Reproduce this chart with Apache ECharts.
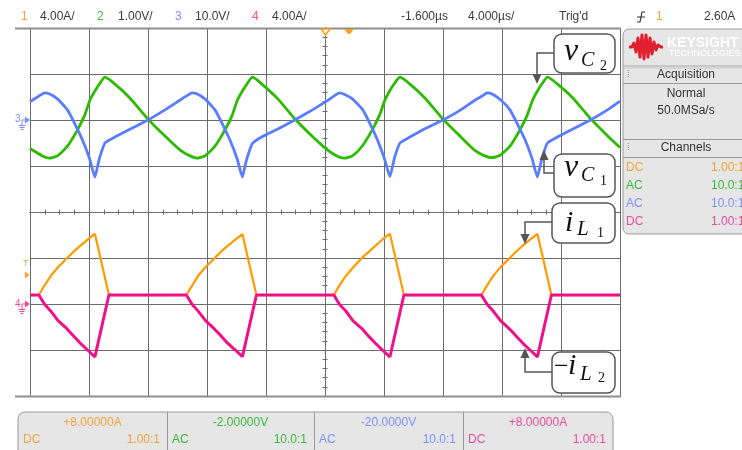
<!DOCTYPE html>
<html>
<head>
<meta charset="utf-8">
<script src="https://cdn.jsdelivr.net/npm/echarts@6/dist/echarts.min.js"></script>
<style>
  html, body { margin: 0; padding: 0; background: #ffffff; }
  #chart { width: 742px; height: 450px; }
</style>
</head>
<body>
<div id="chart"></div>
<script>
// ---- Channel settings (scope front panel) ----
const channelNames   = ['1', '2', '3', '4'];
const channelScale   = [4, 1, 10, 4];              // units per division
const channelOffset  = [8, -2, -20, 8];            // value at screen centre
const scaleLabels    = ['4.00A/', '1.00V/', '10.0V/', '4.00A/'];
const offsetLabels   = ['+8.00000A', '-2.00000V', '-20.0000V', '+8.00000A'];
const couplingLabels = ['DC', 'AC', 'AC', 'DC'];
const probeLabels    = ['1.00:1', '10.0:1', '10.0:1', '1.00:1'];
const traceColors    = ['#ff9a00', '#2cbb00', '#5a7dff', '#f0108a'];
const labelColors    = ['#f5a336', '#3dbb3d', '#7d90ff', '#ee4aa0'];

// ---- Timebase (µs, relative to screen centre; 4 µs/div) ----
const timeTicks = [-20, -16, -12, -8, -4, 0, 4, 8, 12, 16, 20];

// ---- Ch1: i_L1 (A) ----
const ch1Time = [-20, -19.4, -19.0, -18.6, -18.1, -17.5, -17.0, -16.6, -16.1, -15.6, -14.65,
                 -9.4, -9.0, -8.6, -8.1, -7.5, -7.0, -6.6, -6.1, -5.6, -4.65,
                 0.6, 1.0, 1.4, 1.9, 2.5, 3.0, 3.4, 3.9, 4.4, 5.35,
                 10.6, 11.0, 11.4, 11.9, 12.5, 13.0, 13.4, 13.9, 14.4, 15.35, 20];
const ch1Current = [0.78, 0.78, 1.65, 2.43, 3.2, 3.98, 4.6, 5.05, 5.6, 6.1, 0.78,
                    0.78, 1.62, 2.45, 3.22, 3.95, 4.62, 5.06, 5.58, 6.08, 0.78,
                    0.78, 1.66, 2.42, 3.18, 3.99, 4.58, 5.04, 5.61, 6.12, 0.78,
                    0.78, 1.64, 2.44, 3.21, 3.97, 4.61, 5.07, 5.59, 6.1, 0.78, 0.78];

// ---- Ch2: v_C2 (V, AC coupled) ----
const ch2Time = [-20, -19.16, -18.7, -18.14, -17.46, -16.79, -16.31, -15.94, -15.6, -15.26,
                 -14.92, -14.24, -13.23, -12.0, -10.85, -9.84, -9.16, -8.7, -8.14, -7.46, -6.79, -6.31, -5.94, -5.6, -5.26,
                 -4.92, -4.24, -3.23, -2.0, -0.85, 0.16, 0.84, 1.3, 1.86, 2.54, 3.21, 3.69, 4.06, 4.4, 4.74,
                 5.08, 5.76, 6.77, 8.0, 9.15, 10.16, 10.84, 11.3, 11.86, 12.54, 13.21, 13.69, 14.06, 14.4, 14.74,
                 15.08, 15.76, 16.77, 18.0, 19.15, 20];
const ch2Voltage = [-0.62, -0.78, -0.83, -0.78, -0.57, -0.22, 0.09, 0.43, 0.63, 0.80,
                    0.93, 0.78, 0.48, 0.02, -0.35, -0.65, -0.78, -0.83, -0.78, -0.57, -0.22, 0.09, 0.43, 0.63, 0.80,
                    0.93, 0.77, 0.47, 0.01, -0.36, -0.65, -0.79, -0.83, -0.78, -0.56, -0.21, 0.10, 0.43, 0.64, 0.81,
                    0.93, 0.78, 0.48, 0.02, -0.35, -0.66, -0.78, -0.82, -0.77, -0.57, -0.22, 0.09, 0.42, 0.63, 0.80,
                    0.93, 0.78, 0.49, 0.03, -0.34, -0.6];

// ---- Ch3: v_C1 (V, AC coupled) ----
const ch3Time = [-20, -19.84, -19.3, -19.02, -18.7, -18.14, -17.46, -16.92, -16.45, -15.97, -15.6,
                 -15.4, -15.26, -14.92, -14.24, -13.23, -12.0, -10.85, -9.84, -9.3, -9.02, -8.7, -8.14, -7.46, -6.92, -6.45, -5.97, -5.6,
                 -5.4, -5.26, -4.92, -4.24, -3.23, -2.0, -0.85, 0.16, 0.7, 0.98, 1.3, 1.86, 2.54, 3.08, 3.55, 4.03, 4.4,
                 4.6, 4.74, 5.08, 5.76, 6.77, 8.0, 9.15, 10.16, 10.7, 10.98, 11.3, 11.86, 12.54, 13.08, 13.55, 14.03, 14.4,
                 14.6, 14.74, 15.08, 15.76, 16.77, 18.0, 19.15, 20];
const ch3Voltage = [4.0, 4.3, 5.4, 5.9, 5.7, 4.6, 2.2, -1.1, -4.3, -8.3, -12.4,
                    -9.8, -8.0, -5.0, -3.7, -2.0, 0.0, 2.2, 4.3, 5.4, 5.9, 5.7, 4.6, 2.2, -1.1, -4.3, -8.3, -12.4,
                    -9.7, -8.0, -5.1, -3.6, -2.0, 0.1, 2.2, 4.2, 5.4, 5.9, 5.6, 4.6, 2.3, -1.0, -4.3, -8.4, -12.3,
                    -9.8, -7.9, -5.0, -3.7, -1.9, 0.0, 2.1, 4.3, 5.3, 5.9, 5.7, 4.5, 2.2, -1.1, -4.2, -8.3, -12.4,
                    -9.8, -8.0, -5.0, -3.7, -2.0, 0.0, 2.2, 4.1];

// ---- Ch4: -i_L2 (A) ----
const ch4Time = ch1Time;
const ch4Current = [0.78, 0.78, -0.05, -0.6, -1.45, -2.15, -2.85, -3.4, -4.0, -4.6, 0.78,
                    0.78, -0.04, -0.62, -1.44, -2.17, -2.84, -3.41, -3.98, -4.58, 0.78,
                    0.78, -0.06, -0.59, -1.46, -2.14, -2.86, -3.39, -4.01, -4.61, 0.78,
                    0.78, -0.05, -0.61, -1.45, -2.16, -2.85, -3.4, -4.0, -4.6, 0.78, 0.78];

const pairs = (t, v) => t.map((x, i) => [x, v[i]]);

// screen geometry of the graticule
const G = { left: 30, top: 28, width: 590, height: 368 };
const UI = '"Liberation Sans", Arial, sans-serif';
const MATH = '"Liberation Serif", "Times New Roman", serif';
const gridColor = '#6c6c6c';

function yRange(ch) {
  return { min: channelOffset[ch] - 4 * channelScale[ch], max: channelOffset[ch] + 4 * channelScale[ch] };
}

function txt(x, y, text, color, size, align, weight) {
  return {
    type: 'text', x: x, y: y, z: 100, silent: true,
    style: { text: text, fill: color, font: (weight ? weight + ' ' : '') + (size || 12) + 'px ' + UI,
             textAlign: align || 'left', textVerticalAlign: 'middle' }
  };
}
function mathTxt(x, y, text, size, upright) {
  return { type: 'text', x: x, y: y, z: 102, silent: true,
    style: { text: text, fill: '#111', font: (upright ? '' : 'italic ') + size + 'px ' + MATH,
             textAlign: 'left', textVerticalAlign: 'middle' } };
}
function line(x1, y1, x2, y2, color, w, z) {
  return { type: 'line', z: z || 100, silent: true, shape: { x1, y1, x2, y2 },
           style: { stroke: color, lineWidth: w || 1 } };
}
function poly(points, color, z) {
  return { type: 'polygon', z: z || 100, silent: true, shape: { points }, style: { fill: color } };
}
function callout(bx, by, bw, bh, path, tip, dir) {
  const c = '#555';
  const head = dir === 'down'
    ? [[tip[0], tip[1]], [tip[0] - 4.5, tip[1] - 10], [tip[0] + 4.5, tip[1] - 10]]
    : [[tip[0], tip[1]], [tip[0] - 4.5, tip[1] + 10], [tip[0] + 4.5, tip[1] + 10]];
  return [
    { type: 'rect', z: 101, silent: true, shape: { x: bx, y: by, width: bw, height: bh, r: 8 },
      style: { fill: '#ffffff', stroke: c, lineWidth: 1.5 } },
    { type: 'polyline', z: 101, silent: true, shape: { points: path },
      style: { stroke: c, lineWidth: 1.5, fill: null } },
    poly(head, c, 101)
  ];
}

const graphics = [];

// graticule outer rules
graphics.push(line(15, 28.5, 621, 28.5, '#8e8e8e', 2, 5));
graphics.push(line(15, 396.5, 621, 396.5, '#8e8e8e', 2, 5));

// status bar
const chNumX = [21, 97, 175, 252], chScaleX = [40, 118, 195, 272];
for (let i = 0; i < 4; i++) {
  graphics.push(txt(chNumX[i], 17, channelNames[i], labelColors[i], 12));
  graphics.push(txt(chScaleX[i], 17, scaleLabels[i], '#3a3a3a', 12));
}
graphics.push(txt(401, 17, '-1.600µs', '#3a3a3a', 12));
graphics.push(txt(468, 17, '4.000µs/', '#3a3a3a', 12));
graphics.push(txt(559, 17, "Trig'd", '#3a3a3a', 12));
graphics.push({ type: 'polyline', z: 100, silent: true,
  shape: { points: [[637, 22], [640, 22], [642, 12], [645, 12]] },
  style: { stroke: '#333', lineWidth: 1.2, fill: null } });
graphics.push(line(637, 17, 645, 17, '#333', 1));
graphics.push(txt(656, 17, '1', labelColors[0], 12));
graphics.push(txt(704, 17, '2.60A', '#3a3a3a', 12));

// trigger / time-reference markers on top rule
graphics.push({ type: 'polygon', z: 110, silent: true,
  shape: { points: [[321, 29], [330, 29], [325.5, 35]] },
  style: { fill: '#ffffff', stroke: '#f5a020', lineWidth: 1.5 } });
graphics.push(poly([[344, 29], [354, 29], [350, 34], [348, 34]], '#f5a020', 110));

// ground / trigger level markers at left
graphics.push(txt(15, 119, '3', labelColors[2], 10));
graphics.push({ type: 'polyline', z: 100, silent: true, shape: { points: [[26, 120], [22, 120], [22, 125]] },
  style: { stroke: labelColors[2], lineWidth: 1, fill: null } });
graphics.push(line(18.5, 125.5, 25.5, 125.5, labelColors[2], 1));
graphics.push(line(19.5, 127.5, 24.5, 127.5, labelColors[2], 1));
graphics.push(line(20.5, 129.5, 23.5, 129.5, labelColors[2], 1));
graphics.push(poly([[25, 116.5], [30, 120], [25, 123.5]], labelColors[2]));

graphics.push(txt(23, 264, 'T', labelColors[0], 9));
graphics.push(poly([[25, 271.5], [29.5, 275], [25, 278.5]], labelColors[0]));

graphics.push(txt(15, 304, '4', labelColors[3], 10));
graphics.push({ type: 'polyline', z: 100, silent: true, shape: { points: [[26, 304], [22, 304], [22, 309]] },
  style: { stroke: labelColors[3], lineWidth: 1, fill: null } });
graphics.push(line(18.5, 309.5, 25.5, 309.5, labelColors[3], 1));
graphics.push(line(19.5, 311.5, 24.5, 311.5, labelColors[3], 1));
graphics.push(line(20.5, 313.5, 23.5, 313.5, labelColors[3], 1));
graphics.push(poly([[25, 300.5], [30, 304], [25, 307.5]], labelColors[3]));

// right side panel
graphics.push({ type: 'rect', z: 50, silent: true,
  shape: { x: 623, y: 29, width: 130, height: 205, r: 6 },
  style: { fill: '#e6e6e6', stroke: '#9a9a9a', lineWidth: 1 } });
graphics.push({ type: 'polyline', z: 60, silent: true,
  shape: { points: [[629, 47], [632, 47], [634, 43], [636, 52], [638, 38], [640, 57], [642, 35], [644, 59],
                    [646, 35], [648, 57], [650, 38], [652, 54], [654, 42], [656, 50], [658, 45], [661, 47], [663, 47]] },
  style: { stroke: '#e0202e', lineWidth: 3, fill: null, lineJoin: 'round' } });
graphics.push(txt(667, 43, 'KEYSIGHT', '#ffffff', 14, 'left', 'bold'));
graphics.push(txt(669, 54, 'TECHNOLOGIES', '#ffffff', 9));
graphics.push(line(623, 66, 742, 66, '#a8a8a8', 1, 60));
graphics.push(line(623, 68, 742, 68, '#c8c8c8', 1, 60));
graphics.push(txt(686, 75, 'Acquisition', '#333', 12, 'center'));
graphics.push(txt(627, 75, '⁞', '#888', 9));
graphics.push(line(623, 83.5, 742, 83.5, '#9a9a9a', 1, 60));
graphics.push(txt(686, 94, 'Normal', '#333', 12, 'center'));
graphics.push(txt(686, 111, '50.0MSa/s', '#333', 12, 'center'));
graphics.push(line(623, 139.5, 742, 139.5, '#9a9a9a', 1, 60));
graphics.push(txt(686, 148, 'Channels', '#333', 12, 'center'));
graphics.push(txt(627, 148, '⁞', '#888', 9));
graphics.push(line(623, 157.5, 742, 157.5, '#9a9a9a', 1, 60));
const panelRowY = [168, 186, 204, 222];
for (let i = 0; i < 4; i++) {
  graphics.push(txt(626, panelRowY[i], couplingLabels[i], labelColors[i], 12));
  graphics.push(txt(711, panelRowY[i], probeLabels[i], labelColors[i], 12));
}

// bottom channel offset bar
graphics.push({ type: 'rect', z: 50, silent: true,
  shape: { x: 18, y: 412, width: 595, height: 60, r: 7 },
  style: { fill: '#e6e6e6', stroke: '#9a9a9a', lineWidth: 1 } });
const barEdges = [18, 167, 314, 463, 613];
for (let i = 0; i < 4; i++) {
  const l = barEdges[i], r = barEdges[i + 1];
  if (i > 0) graphics.push(line(l + 0.5, 412, l + 0.5, 450, '#9a9a9a', 1, 60));
  graphics.push(txt((l + r) / 2, 423, offsetLabels[i], labelColors[i], 12, 'center'));
  graphics.push(txt(l + 5, 440, couplingLabels[i], labelColors[i], 12));
  graphics.push(txt(r - 7, 440, probeLabels[i], labelColors[i], 12, 'right'));
}

// waveform callouts
graphics.push(...callout(554, 34, 61, 39, [[554, 53], [537, 53], [537, 74]], [537, 84], 'down'));
graphics.push(mathTxt(564, 52, 'v', 32));
graphics.push(mathTxt(581, 61, 'C', 20));
graphics.push(mathTxt(600, 66.5, '2', 14, true));

graphics.push(...callout(554, 154, 61, 43, [[554, 173], [544, 173], [544, 160]], [544, 150], 'up'));
graphics.push(mathTxt(564, 168, 'v', 32));
graphics.push(mathTxt(581, 176, 'C', 20));
graphics.push(mathTxt(600, 181.5, '1', 14, true));

graphics.push(...callout(552, 203, 63, 40, [[552, 222], [525, 222], [525, 235]], [525, 244], 'down'));
graphics.push(mathTxt(565, 223, 'i', 30));
graphics.push(mathTxt(577, 229, 'L', 21));
graphics.push(mathTxt(597, 233, '1', 14, true));

graphics.push(...callout(552, 352, 63, 41, [[552, 372], [525, 372], [525, 358]], [525, 348], 'up'));
graphics.push(mathTxt(554, 367, '−', 26, true));
graphics.push(mathTxt(568, 366, 'i', 30));
graphics.push(mathTxt(580, 374, 'L', 21));
graphics.push(mathTxt(598, 378, '2', 14, true));

const option = {
  animation: false,
  backgroundColor: '#ffffff',
  grid: Object.assign({ containLabel: false }, G),
  xAxis: [
    { type: 'value', min: timeTicks[0], max: timeTicks[timeTicks.length - 1], interval: 4,
      axisLine: { show: false }, axisTick: { show: false }, axisLabel: { show: false },
      splitLine: { show: true, lineStyle: { color: gridColor, width: 1 } } },
    { type: 'value', min: -20, max: 20, interval: 1, position: 'bottom',
      axisLine: { show: true, onZero: true, onZeroAxisIndex: 0, lineStyle: { color: gridColor, width: 1 } },
      axisTick: { show: true, inside: true, length: 2.5, lineStyle: { color: gridColor } },
      axisLabel: { show: false }, splitLine: { show: false } },
    { type: 'value', min: -20, max: 20, interval: 1, position: 'bottom',
      axisLine: { show: true, onZero: true, onZeroAxisIndex: 0, lineStyle: { color: gridColor, width: 1 } },
      axisTick: { show: true, inside: false, length: 2.5, lineStyle: { color: gridColor } },
      axisLabel: { show: false }, splitLine: { show: false } }
  ],
  yAxis: [
    { type: 'value', min: -4, max: 4, interval: 1,
      axisLine: { show: false }, axisTick: { show: false }, axisLabel: { show: false },
      splitLine: { show: true, lineStyle: { color: gridColor, width: 1 } } },
    { type: 'value', min: -4, max: 4, interval: 0.2, position: 'left',
      axisLine: { show: true, onZero: true, onZeroAxisIndex: 0, lineStyle: { color: gridColor, width: 1 } },
      axisTick: { show: true, inside: true, length: 2.5, lineStyle: { color: gridColor } },
      axisLabel: { show: false }, splitLine: { show: false } },
    { type: 'value', min: -4, max: 4, interval: 0.2, position: 'left',
      axisLine: { show: true, onZero: true, onZeroAxisIndex: 0, lineStyle: { color: gridColor, width: 1 } },
      axisTick: { show: true, inside: false, length: 2.5, lineStyle: { color: gridColor } },
      axisLabel: { show: false }, splitLine: { show: false } },
    Object.assign({ type: 'value', show: false }, yRange(0)),
    Object.assign({ type: 'value', show: false }, yRange(1)),
    Object.assign({ type: 'value', show: false }, yRange(2)),
    Object.assign({ type: 'value', show: false }, yRange(3))
  ],
  graphic: { elements: graphics },
  series: [
    { name: 'iL1', type: 'line', xAxisIndex: 0, yAxisIndex: 3, data: pairs(ch1Time, ch1Current),
      symbol: 'none', lineStyle: { color: traceColors[0], width: 2.2 }, z: 3 },
    { name: 'vC2', type: 'line', xAxisIndex: 0, yAxisIndex: 4, data: pairs(ch2Time, ch2Voltage),
      symbol: 'none', smooth: 0.2, lineStyle: { color: traceColors[1], width: 2.8 }, z: 4 },
    { name: 'vC1', type: 'line', xAxisIndex: 0, yAxisIndex: 5, data: pairs(ch3Time, ch3Voltage),
      symbol: 'none', smooth: 0.15, lineStyle: { color: traceColors[2], width: 2.8 }, z: 5 },
    { name: '-iL2', type: 'line', xAxisIndex: 0, yAxisIndex: 6, data: pairs(ch4Time, ch4Current),
      symbol: 'none', lineStyle: { color: traceColors[3], width: 3 }, z: 6 }
  ]
};

const chart = echarts.init(document.getElementById('chart'), null, { renderer: 'canvas' });
chart.setOption(option);
</script>
</body>
</html>
